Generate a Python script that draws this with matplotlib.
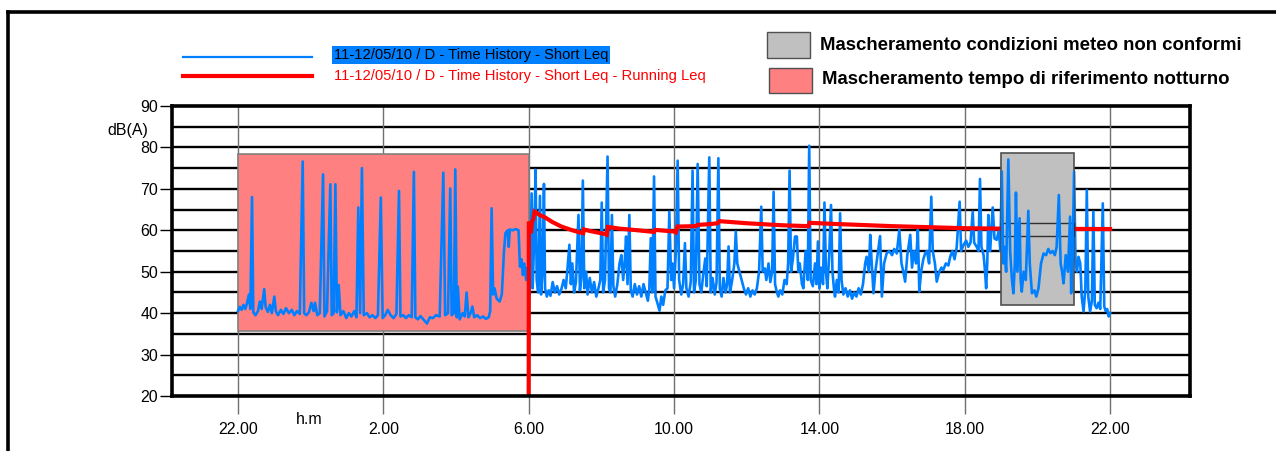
import matplotlib
matplotlib.use("Agg")
import matplotlib.pyplot as plt
from matplotlib.patches import Rectangle
from matplotlib.lines import Line2D

plt.rcParams['font.family'] = ['Liberation Sans', 'DejaVu Sans']

# ore dalle 22:00 del primo giorno
night_t = [0.00, 0.05, 0.10, 0.15, 0.20, 0.25, 0.30, 0.34, 0.385, 0.42, 0.48, 0.55, 0.60, 0.65,
           0.72, 0.76, 0.82, 0.88, 0.93, 1.00, 1.04, 1.10, 1.18, 1.25, 1.32, 1.40, 1.48, 1.55,
           1.62, 1.70, 1.78, 1.82, 1.88, 1.95, 2.02, 2.08, 2.12, 2.18, 2.25, 2.34, 2.38, 2.45,
           2.54, 2.58, 2.63, 2.68, 2.72, 2.77, 2.82, 2.90, 2.98, 3.05, 3.12, 3.20, 3.26, 3.31,
           3.36, 3.41, 3.46, 3.55, 3.62, 3.70, 3.78, 3.85, 3.93, 3.98, 4.05, 4.12, 4.20, 4.28,
           4.36, 4.43, 4.47, 4.55, 4.62, 4.70, 4.78, 4.84, 4.88, 4.95, 5.02, 5.10, 5.20, 5.28,
           5.36, 5.45, 5.55, 5.65, 5.70, 5.78, 5.84, 5.88, 5.94, 5.98, 6.02, 6.05, 6.10, 6.18,
           6.24, 6.29, 6.34, 6.40, 6.45, 6.50, 6.58, 6.66, 6.75, 6.82, 6.90, 6.94, 6.98, 7.02,
           7.06, 7.12, 7.20, 7.26, 7.32, 7.36, 7.42, 7.45, 7.48, 7.56, 7.64, 7.72, 7.76, 7.80,
           7.84, 7.88, 7.93, 7.97]
night_v = [40.5, 41.5, 40.8, 42.0, 41.0, 42.5, 44.5, 41.0, 68.0, 40.2, 39.5, 40.5, 42.8, 41.0,
           45.8, 41.5, 40.3, 42.0, 40.0, 44.0, 40.5, 39.5, 40.8, 39.8, 41.2, 40.0, 40.8, 39.5,
           40.5, 39.8, 76.6, 40.0, 39.5, 40.2, 42.5, 40.5, 42.5, 39.5, 40.0, 73.5, 39.2, 40.5,
           71.1, 39.5, 40.0, 71.1, 40.2, 46.8, 39.5, 40.5, 38.8, 40.0, 39.2, 40.5, 39.0, 65.5,
           40.0, 75.0, 39.5, 40.0, 39.0, 39.5, 38.8, 39.5, 67.9, 38.8, 39.5, 40.8, 39.5, 38.8,
           39.8, 69.5, 39.2, 39.5, 38.8, 39.5, 39.0, 74.1, 39.0, 38.5, 39.3, 38.5, 37.5, 39.0,
           38.8, 39.5, 39.2, 73.9, 39.5, 40.0, 70.1, 39.5, 40.0, 74.7, 39.0, 46.4, 38.5, 40.0,
           39.2, 45.0, 39.0, 40.0, 41.6, 39.0, 39.5, 38.8, 39.2, 38.6, 39.0, 40.5, 65.3, 44.5,
           46.0, 43.5, 42.8, 44.5, 55.0, 59.3, 60.0, 56.0, 60.2, 60.0, 60.3, 60.0, 51.2, 53.0,
           49.2, 52.0, 48.0, 51.0]

day_t = [8.00, 8.03, 8.08, 8.11, 8.15, 8.19, 8.22, 8.26, 8.31, 8.34, 8.38, 8.42, 8.45, 8.50,
         8.55, 8.60, 8.66, 8.72, 8.78, 8.84, 8.90, 8.96, 9.02, 9.07, 9.12, 9.16, 9.20, 9.25,
         9.30, 9.37, 9.41, 9.45, 9.49, 9.53, 9.58, 9.62, 9.68, 9.74, 9.80, 9.86, 9.92, 9.97,
         10.01, 10.05, 10.10, 10.17, 10.21, 10.25, 10.29, 10.33, 10.38, 10.44, 10.50, 10.55,
         10.60, 10.64, 10.68, 10.72, 10.77, 10.81, 10.86, 10.92, 10.98, 11.04, 11.10, 11.16,
         11.22, 11.28, 11.32, 11.36, 11.40, 11.45, 11.49, 11.54, 11.60, 11.65, 11.70, 11.76,
         11.82, 11.87, 11.92, 11.96, 12.00, 12.05, 12.10, 12.14, 12.20, 12.25, 12.30, 12.34,
         12.40, 12.46, 12.51, 12.55, 12.60, 12.65, 12.70, 12.75, 12.80, 12.86, 12.90, 12.97,
         13.01, 13.06, 13.12, 13.17, 13.22, 13.26, 13.31, 13.36, 13.42, 13.46, 13.50, 13.54,
         13.60, 13.66, 13.70, 13.74, 13.80, 13.86, 13.92, 13.98, 14.04, 14.10, 14.16, 14.22,
         14.28, 14.34, 14.40, 14.44, 14.50, 14.54, 14.60, 14.65, 14.70, 14.74, 14.78, 14.83,
         14.87, 14.92, 14.98, 15.04, 15.10, 15.14, 15.18, 15.22, 15.27, 15.33, 15.38, 15.42,
         15.46, 15.52, 15.56, 15.62, 15.68, 15.72, 15.76, 15.82, 15.88, 15.92, 15.96, 16.00,
         16.04, 16.10, 16.14, 16.18, 16.22, 16.27, 16.32, 16.36, 16.40, 16.43, 16.48, 16.53,
         16.57, 16.61, 16.66, 16.72, 16.78, 16.84, 16.90, 16.96, 17.02, 17.08, 17.14, 17.20,
         17.26, 17.30, 17.36, 17.40, 17.44, 17.49, 17.54, 17.60, 17.67, 17.72, 17.78, 17.85,
         17.92, 18.00, 18.06, 18.13, 18.20, 18.26, 18.31, 18.36, 18.42, 18.50, 18.55, 18.60,
         18.66, 18.71, 18.75, 18.80, 18.86, 18.91, 18.96, 19.02, 19.08, 19.12, 19.18, 19.23,
         19.30, 19.36, 19.41, 19.48, 19.55, 19.60, 19.66, 19.72, 19.78, 19.86, 19.90, 19.97,
         20.04, 20.10, 20.16, 20.22, 20.26, 20.33, 20.38, 20.42, 20.46, 20.52, 20.56, 20.59,
         20.62, 20.65, 20.70, 20.77, 20.82, 20.88, 20.94, 20.98, 21.02, 21.06, 21.09, 21.14,
         21.20, 21.25, 21.30, 21.34, 21.38, 21.41, 21.45, 21.51, 21.54, 21.57, 21.62, 21.68,
         21.75, 21.79, 21.85, 21.92, 21.97, 22.03, 22.10, 22.17, 22.24, 22.30, 22.36, 22.42,
         22.48, 22.53, 22.59, 22.64, 22.68, 22.72, 22.78, 22.84, 22.90, 22.93, 22.97, 23.01,
         23.05, 23.09, 23.13, 23.18, 23.22, 23.27, 23.32, 23.36, 23.40, 23.45, 23.50, 23.54,
         23.58, 23.63, 23.68, 23.73, 23.80, 23.84, 23.88, 23.92, 23.96, 24.00]
day_v = [47.0, 44.5, 68.9, 46.0, 58.0, 74.6, 48.0, 45.0, 68.3, 44.5, 50.0, 71.2, 46.0, 44.0,
         45.5, 44.2, 47.5, 45.0, 46.5, 44.5, 45.8, 48.0, 46.0, 51.0, 56.5, 47.0, 52.0, 45.0,
         47.5, 63.7, 45.5, 48.5, 72.0, 46.0, 50.0, 44.5, 48.5, 45.0, 47.5, 44.0, 46.0, 48.0,
         66.7, 45.0, 48.0, 77.8, 46.0, 45.0, 63.7, 46.5, 44.0, 47.0, 52.0, 54.0,
         48.0, 52.0, 58.5, 47.0, 63.7, 45.5, 44.0, 47.0, 44.5, 46.5, 44.0, 47.0,
         45.0, 43.0, 46.0, 58.1, 45.0, 73.0, 44.0, 42.5, 40.6, 44.0, 42.0, 45.5,
         46.0, 64.5, 48.0, 52.0, 46.0, 55.0, 76.8, 48.0, 44.5, 47.0, 56.9, 46.0,
         44.0, 47.5, 74.4, 45.0, 48.0, 76.0, 47.0, 45.0, 49.0, 53.2, 46.5, 77.6,
         45.0, 48.5, 44.5, 47.5, 77.4, 46.0, 44.0, 48.5, 45.0, 47.0, 56.1, 45.0,
         48.0, 52.0, 59.7, 52.0, 50.0, 48.0, 46.0, 44.5, 46.0, 44.0, 45.5, 44.5,
         46.0, 50.0, 65.7, 50.0, 50.8, 48.0, 52.0, 47.5, 50.0, 69.3, 47.0, 45.0,
         44.0, 45.5, 44.5, 48.0, 47.0, 52.0, 74.4, 50.0, 53.0, 58.5, 58.5, 50.0,
         52.0, 47.0, 46.0, 55.0, 48.0, 80.4, 48.0, 46.5, 52.0, 47.0, 57.3, 46.0,
         51.0, 47.0, 66.7, 50.0, 46.0, 54.0, 66.1, 50.0, 46.0, 44.0, 48.0, 45.0,
         64.1, 48.0, 44.5, 46.0, 44.0, 45.5, 43.5, 45.0, 44.0, 46.0, 44.5, 47.0,
         52.0, 53.6, 50.0, 58.9, 52.0, 44.8, 50.0, 54.0, 58.6, 44.0, 52.0, 54.4,
         55.0, 54.0, 55.5, 54.4, 60.1, 52.0, 50.0, 47.6, 54.0, 58.9, 51.0, 55.0,
         52.0, 60.1, 45.2, 50.0, 53.0, 54.4, 55.0, 52.0, 68.1, 55.0, 52.0, 47.6,
         50.0, 51.0, 50.4, 52.0, 51.5, 53.6, 55.0, 53.0, 56.0, 66.9, 55.0, 56.5,
         57.5, 56.0, 57.0, 64.5, 57.0, 56.0, 55.0, 72.4, 56.0, 54.0, 50.0, 46.0,
         52.0, 63.7, 55.0, 65.5, 58.0, 57.7, 60.0, 55.0, 74.2, 52.0, 56.0, 50.0,
         77.1, 55.0, 48.0, 44.8, 52.0, 69.1, 50.0, 62.9, 48.0, 45.2, 50.0, 48.0,
         64.7, 52.0, 44.8, 45.5, 44.0, 46.0, 52.0, 54.4, 54.0, 55.5, 54.5, 55.0,
         54.0, 56.0, 68.5, 52.0, 50.0, 47.2, 54.0, 50.0, 63.3, 44.8, 55.0, 74.2,
         52.0, 50.0, 53.6, 52.0, 44.0, 40.4, 46.0, 69.7, 44.0, 40.4, 43.0, 64.5,
         42.0, 41.2, 42.5, 41.0, 66.5, 41.6, 40.5, 41.0, 39.2, 40.0]

short_t = night_t + day_t
short_v = night_v + day_v

running_t = [8.00, 8.005, 8.03, 8.06, 8.09, 8.12, 8.16, 8.22, 8.30, 8.45, 8.65, 8.90, 9.20,
             9.40, 9.50, 9.52, 9.70, 10.10, 10.15, 10.18, 10.50, 11.00, 11.45, 11.48, 12.00,
             12.05, 12.10, 12.60, 12.65, 13.00, 13.20, 13.25, 14.00, 15.00, 15.70, 15.73,
             16.50, 18.00, 20.00, 21.00, 24.00]
running_v = [20.0, 62.1, 61.0, 59.3, 62.0, 62.5, 64.5, 64.2, 63.7, 63.1, 62.0, 60.9, 60.0,
             59.5, 59.3, 60.2, 59.8, 59.1, 58.9, 60.8, 60.4, 60.0, 59.6, 60.1, 59.7,
             59.5, 60.9, 61.0, 61.3, 61.5, 61.7, 62.2, 61.7, 61.2, 61.0, 61.8,
             61.5, 61.0, 60.5, 60.4, 60.3]

# zone di mascheramento: (inizio, fine, dB min, dB max)
night_mask = (0.0, 8.0, 35.7, 78.4)
meteo_mask = (21.0, 23.0, 42.0, 78.7)

tick_hours = [0, 4, 8, 12, 16, 20, 24]
tick_labels = ['22.00', '2.00', '6.00', '10.00', '14.00', '18.00', '22.00']

BLUE = '#0080FF'
RED = '#FF0000'

fig = plt.figure(figsize=(12.76, 4.51), dpi=100)
ax = fig.add_axes([172 / 1276, 1 - 396 / 451, (1190 - 172) / 1276, (396 - 106) / 451])

ax.set_xlim(-1.817, 26.20)
ax.set_ylim(20, 90)

# griglia
for y in range(25, 90, 5):
    ax.axhline(y, color='black', lw=1.7, zorder=1)
for h in tick_hours:
    ax.axvline(h, color='#707070', lw=1.0, zorder=1)

ax.add_patch(Rectangle((night_mask[0], night_mask[2]), night_mask[1] - night_mask[0],
                       night_mask[3] - night_mask[2], facecolor='#FF8080',
                       edgecolor='#808080', lw=1.2, zorder=2))

ax.plot(short_t, short_v, color=BLUE, lw=1.9, zorder=2.5)
ax.plot(running_t, running_v, color=RED, lw=3.0, zorder=3, solid_joinstyle='miter')

gray = Rectangle((meteo_mask[0], meteo_mask[2]), meteo_mask[1] - meteo_mask[0],
                 meteo_mask[3] - meteo_mask[2], facecolor='#C0C0C0',
                 edgecolor='#505050', lw=1.2, zorder=3.5)
ax.add_patch(gray)
ax.add_patch(Rectangle((meteo_mask[0], 58.6), meteo_mask[1] - meteo_mask[0], 3.2,
                       facecolor='none', edgecolor='#303030', lw=1.0, zorder=3.6))
blue_top, = ax.plot(short_t, short_v, color=BLUE, lw=1.9, zorder=4)
blue_top.set_clip_path(gray)

for s in ax.spines.values():
    s.set_linewidth(2.6)
    s.set_zorder(6)

ax.set_yticks(range(20, 91, 10))
ax.set_xticks(tick_hours)
ax.set_xticklabels(tick_labels)
ax.tick_params(axis='y', length=9, width=1, color='black', labelsize=11.5, pad=1)
ax.tick_params(axis='x', length=13, width=1, color='#707070', labelsize=11.5, pad=6)

fig.text(128 / 1276, 1 - 130 / 451, 'dB(A)', ha='center', va='center', fontsize=11.5)
fig.text(309 / 1276, 1 - 419 / 451, 'h.m', ha='center', va='center', fontsize=11.5)

# cornice esterna
fig.add_artist(Line2D([8 / 1276, 1.0], [1 - 12 / 451, 1 - 12 / 451], color='black', lw=2.6))
fig.add_artist(Line2D([8 / 1276, 8 / 1276], [0.0, 1 - 12 / 451], color='black', lw=2.6))

# legenda serie
fig.add_artist(Line2D([183 / 1276, 312 / 1276], [1 - 57 / 451] * 2, color=BLUE, lw=1.6))
fig.add_artist(Line2D([183 / 1276, 312 / 1276], [1 - 76 / 451] * 2, color=RED, lw=3.0))
fig.text(334 / 1276, 1 - 55 / 451, '11-12/05/10 / D - Time History - Short Leq',
         ha='left', va='center', fontsize=10.6, color='black',
         bbox=dict(facecolor=BLUE, edgecolor='none', pad=1.5))
fig.text(334 / 1276, 1 - 76 / 451, '11-12/05/10 / D - Time History - Short Leq - Running Leq',
         ha='left', va='center', fontsize=10.6, color=RED)

# legenda mascheramenti
fig.add_artist(Rectangle((767 / 1276, 1 - 58 / 451), 43 / 1276, 26 / 451,
                         facecolor='#C0C0C0', edgecolor='#505050', lw=1.0,
                         transform=fig.transFigure))
fig.add_artist(Rectangle((769 / 1276, 1 - 93 / 451), 43 / 1276, 25 / 451,
                         facecolor='#FF8080', edgecolor='#505050', lw=1.0,
                         transform=fig.transFigure))
fig.text(820 / 1276, 1 - 45 / 451, 'Mascheramento condizioni meteo non conformi',
         ha='left', va='center', fontsize=13.4, fontweight='bold')
fig.text(822 / 1276, 1 - 80 / 451, 'Mascheramento tempo di riferimento notturno',
         ha='left', va='center', fontsize=13.4, fontweight='bold')

fig.savefig('out.png', dpi=100, facecolor='white')
